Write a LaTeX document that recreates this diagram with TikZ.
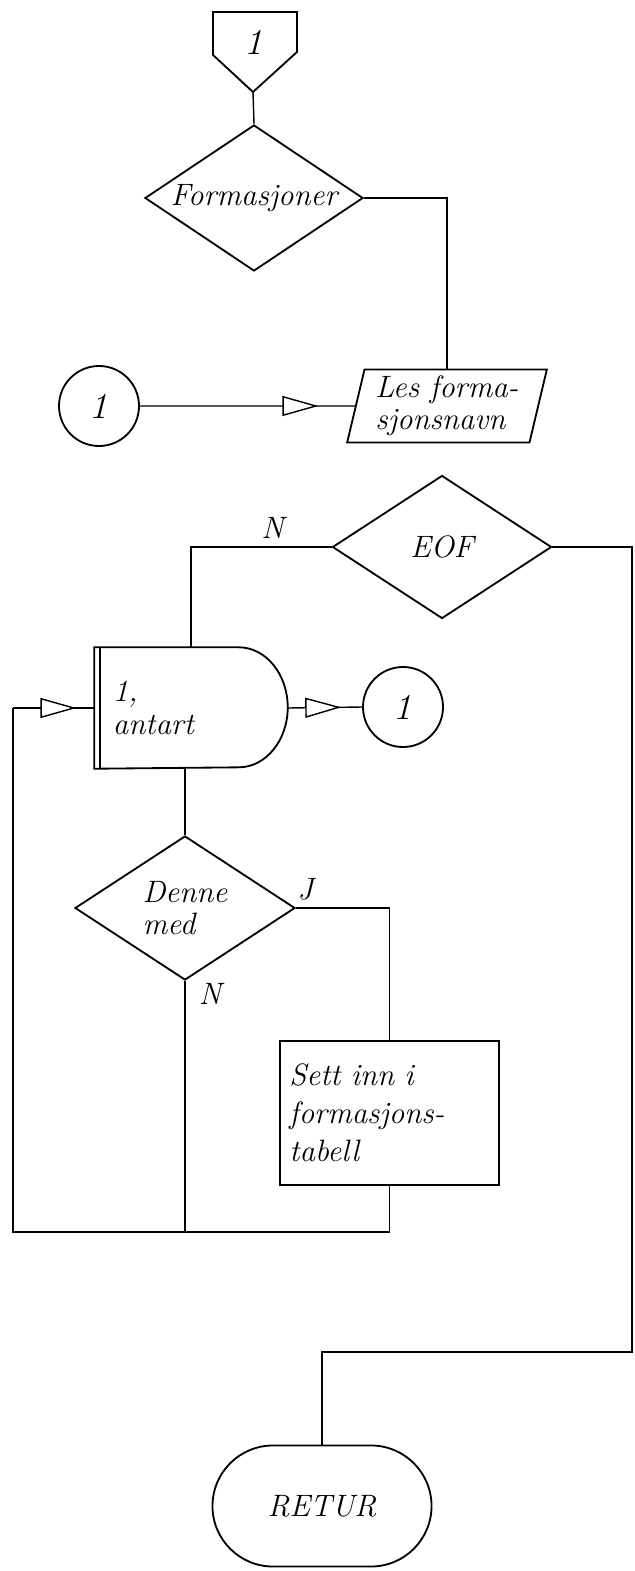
\documentclass[tikz,border=0pt]{standalone}
\usepackage{tikz}
\usetikzlibrary{arrows.meta, decorations.markings, shapes.geometric, shapes.misc}

\begin{document}
\begin{tikzpicture}[x=0.025cm, y=0.025cm, line width=1pt,
    hand/.style={font=\fontsize{22}{23}\selectfont\itshape},
    box/.style={draw, line width=1.3pt, hand, inner sep=0pt},
    decision/.style={box, diamond, aspect=1.5},
    joint/.style={box, circle, minimum size=2cm, font=\fontsize{26}{28}\selectfont\itshape},
    midarrow/.style={postaction={decorate}, decoration={markings,
        mark=at position #1 with {\arrow[line width=1pt]{Triangle[open, fill=white, length=0.9cm, width=0.5cm]}}}}]
    \useasboundingbox (0,0) rectangle (635,-1571);

    % Off-page entry
    \draw[line width=1.3pt] (213,-12) -- (297,-12) -- (297,-52) -- (253,-92) -- (213,-55) -- cycle;
    \node[hand, font=\fontsize{26}{28}\selectfont\itshape] (offpage) at (254,-42) {1};
    \coordinate (offtip) at (253,-92);

    % Nodes
    \node[decision, minimum width=5.45cm, minimum height=3.65cm] (formasjoner) at (254,-198) {Formasjoner};
    \node[joint] (c1) at (99,-406) {1};
    \node[box, trapezium, trapezium left angle=76, trapezium right angle=104, trapezium stretches=true,
        minimum width=5cm, minimum height=1.825cm, align=left] (les) at (447,-406) {Les forma-\\sjonsnavn};
    \node[decision, minimum width=5.475cm, minimum height=3.575cm] (eof) at (442,-547) {EOF};
    \node[hand, inner sep=0pt, minimum width=4.8cm, minimum height=3cm, text width=3.9cm, align=left] (antart) at (191,-708) {1,\\antart};
    \node[joint] (c2) at (403,-707) {1};
    \node[decision, minimum width=5.5cm, minimum height=3.6cm, align=left] (denne) at (185,-908) {Denne\\med};
    \node[box, minimum width=5.475cm, minimum height=3.6cm, text width=5cm, align=left,
        font=\fontsize{22}{27}\selectfont\itshape] (sett) at (389.5,-1113) {Sett inn i\\formasjons-\\tabell};
    \node[box, rounded rectangle, minimum width=5.475cm, minimum height=3.025cm] (retur) at (322,-1506) {RETUR};

    % Loop box outline
    \draw[line width=1.3pt] (antart.north west) -- ([xshift=-1.225cm]antart.north east)
        arc[start angle=90, end angle=-90, x radius=1.225cm, y radius=1.5cm] -- (antart.south west) -- cycle;
    \draw[line width=1.3pt] ([xshift=0.15cm]antart.north west) -- ([xshift=0.15cm]antart.south west);

    \coordinate (loopL) at (13,-1232);
    \coordinate (rtop) at (632,-1352);

    % Connectors
    \draw (offtip) -- (formasjoner.north);
    \draw (formasjoner.east) -| (les.north);
    \draw[midarrow=0.83] (c1.east) -- (les.west);
    \draw (eof.west) -| (antart.north) node[hand, pos=0.21, above=2pt] {N};
    \draw (eof.east) -| (rtop) -| (retur.north);
    \draw[midarrow=0.72] (antart.east) -- (c2.west);
    \draw (antart.south -| denne.north) -- (denne.north);
    \draw (denne.east) -| (sett.north) node[hand, pos=0.05, above=2pt] {J};
    \draw (denne.south) -- (denne.south |- loopL) node[hand, pos=0.05, right=6pt] {N};
    \draw (sett.south) |- (loopL) -- (loopL |- antart.west);
    \draw[midarrow=0.78] (loopL |- antart.west) -- (antart.west);
\end{tikzpicture}
\end{document}
